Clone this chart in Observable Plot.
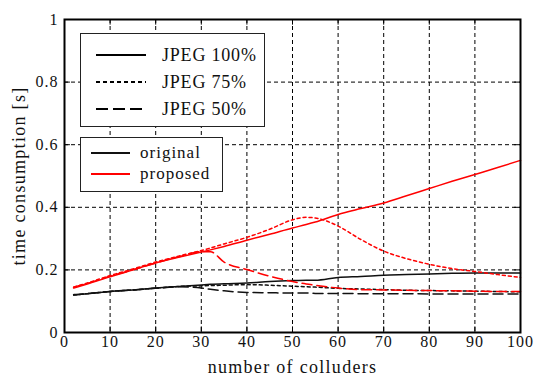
<!DOCTYPE html>
<html>
<head>
<meta charset="utf-8">
<script src="https://cdn.jsdelivr.net/npm/d3@7"></script>
<script src="https://cdn.jsdelivr.net/npm/@observablehq/plot@0.6"></script>
<style>
  html, body { margin: 0; padding: 0; background: #fff; }
  #chart { width: 536px; height: 376px; }
</style>
</head>
<body>
<div id="chart"></div>
<script>
// ---- data ----
const colluders = [2,5,10,15,20,25,30,32,35,40,45,50,53,55,60,65,70,75,80,85,90,95,100];
const proposed100 = [0.142,0.155,0.178,0.200,0.222,0.240,0.257,0.264,0.275,0.295,0.314,0.334,0.345,0.353,0.377,0.396,0.414,0.437,0.460,0.483,0.505,0.527,0.550];
const proposed75  = [0.145,0.158,0.182,0.203,0.225,0.244,0.262,0.270,0.283,0.304,0.330,0.360,0.368,0.366,0.340,0.297,0.260,0.236,0.218,0.204,0.195,0.185,0.176];
const proposed50  = [0.145,0.157,0.180,0.200,0.222,0.242,0.258,0.258,0.225,0.201,0.180,0.163,0.155,0.151,0.142,0.137,0.136,0.135,0.134,0.133,0.132,0.131,0.131];
const original100 = [0.121,0.124,0.131,0.136,0.142,0.147,0.152,0.154,0.156,0.158,0.163,0.166,0.167,0.167,0.176,0.179,0.183,0.185,0.187,0.189,0.190,0.190,0.190];
const original75  = [0.120,0.124,0.131,0.136,0.142,0.147,0.149,0.150,0.151,0.153,0.151,0.148,0.146,0.145,0.141,0.139,0.137,0.135,0.134,0.133,0.132,0.131,0.130];
const original50  = [0.120,0.124,0.131,0.136,0.141,0.146,0.142,0.138,0.133,0.128,0.127,0.126,0.126,0.125,0.125,0.124,0.124,0.124,0.123,0.123,0.123,0.123,0.123];

const xTicks = [0,10,20,30,40,50,60,70,80,90,100];
const yTicks = [0,0.2,0.4,0.6,0.8,1];
const yTickLabels = ["0","0.2","0.4","0.6","0.8","1"];
const qualityLabels = ["JPEG 100%","JPEG 75%","JPEG 50%"];
const methodLabels = ["original","proposed"];
const xLabel = "number of colluders";
const yLabel = "time consumption [s]";

// ---- build series table ----
const dashFor = {"JPEG 100%": null, "JPEG 75%": "3,3", "JPEG 50%": "10,5"};
const colorFor = {"original": "#111", "proposed": "#ff0000"};
const seriesDefs = [
  {method: "original", quality: "JPEG 100%", values: original100},
  {method: "original", quality: "JPEG 75%",  values: original75},
  {method: "original", quality: "JPEG 50%",  values: original50},
  {method: "proposed", quality: "JPEG 100%", values: proposed100},
  {method: "proposed", quality: "JPEG 75%",  values: proposed75},
  {method: "proposed", quality: "JPEG 50%",  values: proposed50}
];

const font = "'Liberation Serif', 'Times New Roman', serif";
const gridX = xTicks.filter(d => d > 0 && d < 100);
const gridY = yTicks.filter(d => d > 0 && d < 1);

const lineMarks = seriesDefs.map(s =>
  Plot.line(colluders.map((c, i) => ({x: c, y: s.values[i]})), {
    x: "x", y: "y",
    stroke: colorFor[s.method],
    strokeWidth: 1.5,
    strokeDasharray: dashFor[s.quality] || undefined,
    curve: "monotone-x"
  })
);

const chart = Plot.plot({
  width: 536,
  height: 376,
  marginLeft: 64,
  marginRight: 16,
  marginTop: 19,
  marginBottom: 44,
  style: {fontFamily: font, background: "#fff", color: "#111"},
  x: {domain: [0, 100]},
  y: {domain: [0, 1]},
  marks: [
    Plot.ruleX(gridX, {stroke: "#000", strokeWidth: 1, strokeDasharray: "4,3", strokeOpacity: 1}),
    Plot.ruleY(gridY, {stroke: "#000", strokeWidth: 1, strokeDasharray: "4,3", strokeOpacity: 1}),
    // small inner tick marks
    Plot.ruleX(gridX, {y1: 0, y2: 0.018, stroke: "#000", strokeWidth: 1}),
    Plot.ruleX(gridX, {y1: 0.982, y2: 1, stroke: "#000", strokeWidth: 1}),
    Plot.ruleY(gridY, {x1: 0, x2: 1.3, stroke: "#000", strokeWidth: 1}),
    Plot.ruleY(gridY, {x1: 98.7, x2: 100, stroke: "#000", strokeWidth: 1}),
    ...lineMarks,
    Plot.frame({stroke: "#000", strokeWidth: 2}),
    Plot.axisX(xTicks, {tickSize: 0, tickPadding: 3, fontSize: 16, label: null}),
    Plot.axisY(yTicks, {tickSize: 0, tickPadding: 6, fontSize: 16, label: null,
      tickFormat: (d) => yTickLabels[yTicks.indexOf(d)]}),
    Plot.text([xLabel], {frameAnchor: "bottom", dy: 35, fontSize: 18, textAnchor: "middle", lineAnchor: "middle"}),
    Plot.text([yLabel], {frameAnchor: "left", dx: -45, rotate: -90, fontSize: 18, textAnchor: "middle", lineAnchor: "middle"})
  ]
});

// letter spacing to mimic the wider rendering of the reference
const svg = d3.select(chart);
svg.selectAll('g[aria-label="x-axis tick label"] text, g[aria-label="y-axis tick label"] text')
  .style("letter-spacing", "1px");
svg.selectAll('g[aria-label="text"] text').style("letter-spacing", "1.3px");

// ---- legends (two boxes) ----
const g1 = svg.append("g").attr("font-family", font).attr("text-anchor", "start");
g1.append("rect").attr("x", 80.5).attr("y", 33.5).attr("width", 184).attr("height", 93)
  .attr("fill", "#fff").attr("stroke", "#222").attr("stroke-width", 1);
qualityLabels.forEach((q, i) => {
  const y = 55 + i * 27;
  g1.append("line").attr("x1", 96).attr("x2", 146).attr("y1", y).attr("y2", y)
    .attr("stroke", "#000").attr("stroke-width", 2.2)
    .attr("stroke-dasharray", q === "JPEG 75%" ? "4,3" : q === "JPEG 50%" ? "12,5" : null);
  g1.append("text").attr("x", 162).attr("y", y).attr("dy", "0.35em").attr("text-anchor", "start")
    .attr("font-size", 18).style("letter-spacing", "0.8px").attr("fill", "#111").text(q);
});
const g2 = svg.append("g").attr("font-family", font).attr("text-anchor", "start");
g2.append("rect").attr("x", 80.5).attr("y", 137.5).attr("width", 142).attr("height", 54)
  .attr("fill", "#fff").attr("stroke", "#222").attr("stroke-width", 1);
methodLabels.forEach((m, i) => {
  const y = 153 + i * 21;
  g2.append("line").attr("x1", 91).attr("x2", 130).attr("y1", y).attr("y2", y)
    .attr("stroke", colorFor[m]).attr("stroke-width", 2);
  g2.append("text").attr("x", 140).attr("y", y).attr("dy", "0.32em").attr("text-anchor", "start")
    .attr("font-size", 17).style("letter-spacing", "1px").attr("fill", "#111").text(m);
});

document.getElementById("chart").appendChild(chart);
</script>
</body>
</html>
